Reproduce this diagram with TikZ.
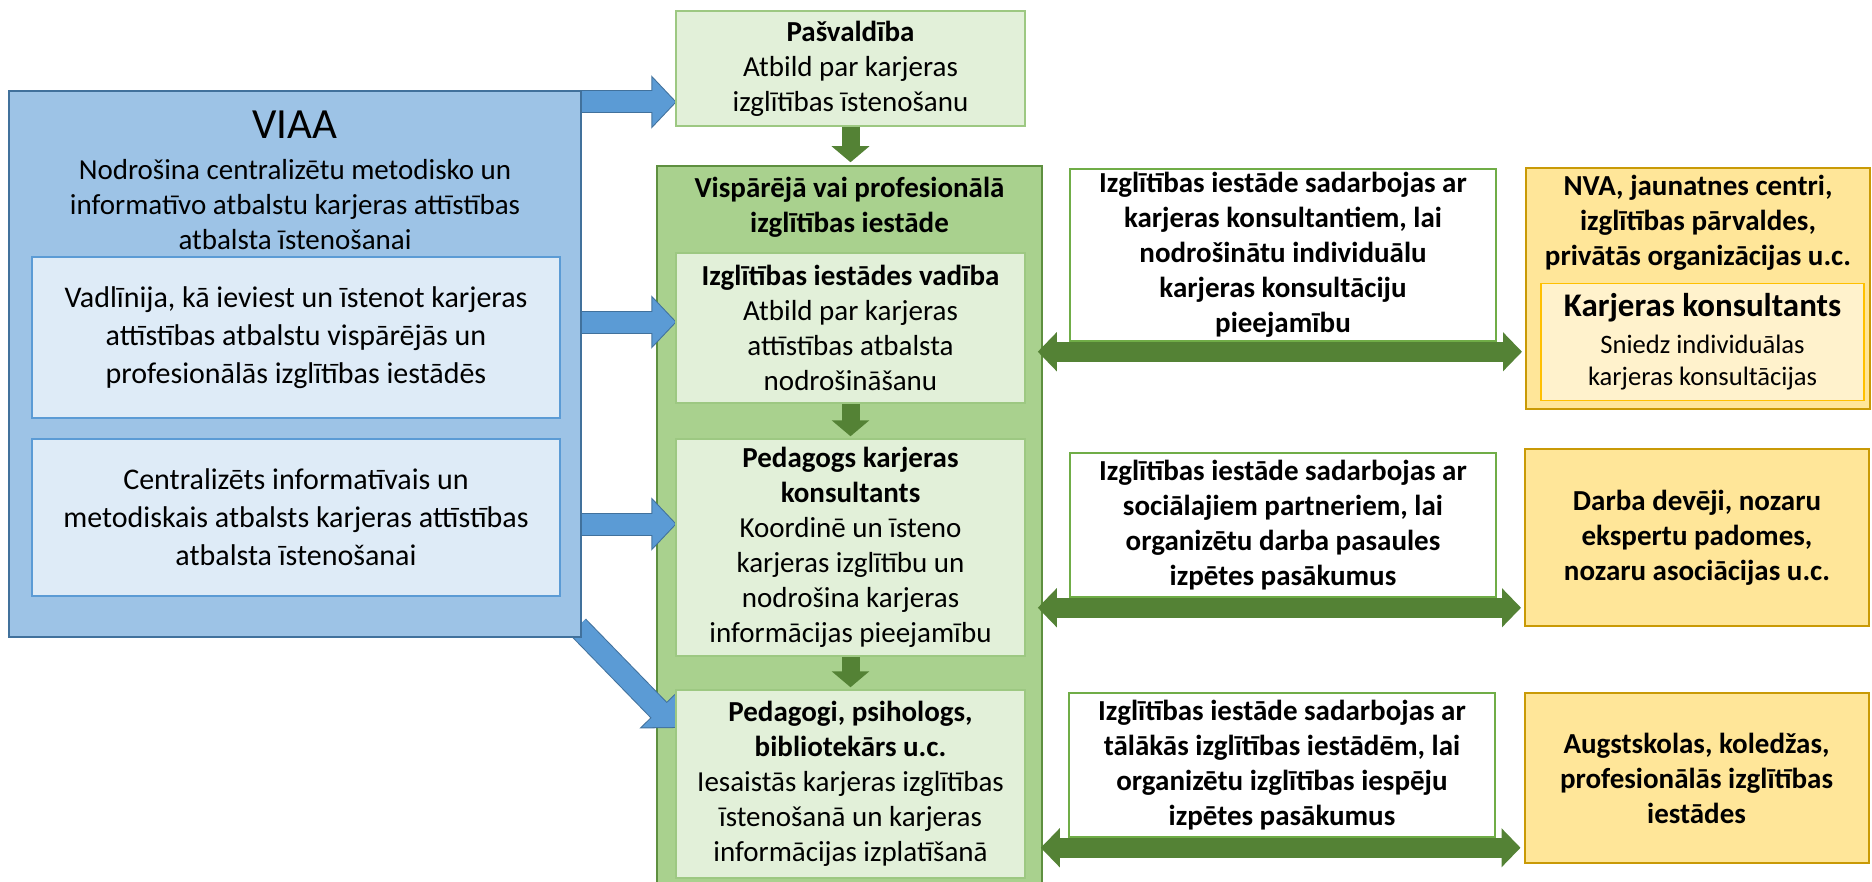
\documentclass[tikz,border=0pt]{standalone}
\usepackage{fontspec}
\setmainfont{Carlito}
\usetikzlibrary{arrows.meta}
\pgfdeclarelayer{back}
\pgfdeclarelayer{mid}
\pgfsetlayers{back,mid,main}

\definecolor{viaafill}{HTML}{9DC3E6}
\definecolor{viaaline}{HTML}{41719C}
\definecolor{subfill}{HTML}{DEEBF7}
\definecolor{subline}{HTML}{5B9BD5}
\definecolor{arrowblue}{HTML}{5B9BD5}
\definecolor{schoolfill}{HTML}{A9D18E}
\definecolor{schoolline}{HTML}{5E8F3F}
\definecolor{mintfill}{HTML}{E2F0D9}
\definecolor{mintline}{HTML}{9DC882}
\definecolor{arrowgreen}{HTML}{548235}
\definecolor{talkline}{HTML}{70AD47}
\definecolor{yelfill}{HTML}{FFE699}
\definecolor{yelline}{HTML}{C99A06}
\definecolor{lightyelfill}{HTML}{FFF2CC}
\definecolor{lightyelline}{HTML}{FFC000}

\begin{document}
\begin{tikzpicture}[x=0.5pt,y=-0.5pt,
  txt/.style={font=\fontsize{14.5}{17.5}\selectfont, align=center, inner sep=0pt},
  boldtxt/.style={txt, font=\fontsize{14.5}{17.5}\selectfont\bfseries},
  box/.style={txt, draw, line width=0.75pt},
  viaabox/.style={box, fill=viaafill, draw=viaaline},
  subbox/.style={box, fill=subfill, draw=subline, minimum width=264pt, font=\fontsize{15}{19}\selectfont},
  schoolbox/.style={box, fill=schoolfill, draw=schoolline},
  greenbox/.style={box, fill=mintfill, draw=mintline, minimum width=174.5pt},
  talkbox/.style={boldtxt, draw=talkline, fill=white, line width=0.75pt, minimum width=213pt},
  yelbox/.style={boldtxt, draw=yelline, fill=yelfill, line width=1pt, minimum width=172pt},
  bluearrow/.style={draw=arrowblue, line width=10.5pt, -{Triangle[length=11.5pt,width=23.5pt]},
    preaction={draw=viaaline, line width=11.5pt, shorten >=-0.7pt, -{Triangle[length=12.7pt,width=26pt]}}},
  downarrow/.style={draw=arrowgreen, line width=9pt, -{Triangle[length=8pt,width=18.5pt]}},
  twoway/.style={draw=arrowgreen, line width=10pt, {Triangle[length=9.5pt,width=19pt]}-{Triangle[length=9.5pt,width=19pt]}}]
\useasboundingbox (0,0) rectangle (1872,882);

% VIAA
\node[viaabox, minimum width=286pt, minimum height=273pt] (viaa) at (295,364) {};
\node[txt, font=\fontsize{21.5}{26}\selectfont] (viaaname) at (295,125) {VIAA};
\node[txt] (viaadesc) at (295,205) {Nodrošina centralizētu metodisko un\\informatīvo atbalstu karjeras attīstības\\atbalsta īstenošanai};
\node[subbox, minimum height=80.5pt] (guide) at (296,337.5) {Vadlīnija, kā ieviest un īstenot karjeras\\attīstības atbalstu vispārējās un\\profesionālās izglītības iestādēs};
\node[subbox, minimum height=78.5pt] (info) at (296,517.5) {Centralizēts informatīvais un\\metodiskais atbalsts karjeras attīstības\\atbalsta īstenošanai};

% middle column
\begin{pgfonlayer}{back}
\node[schoolbox, minimum width=192.5pt, minimum height=362pt] (school) at (849.5,528) {};
\end{pgfonlayer}
\node[boldtxt] (schoolname) at (849.5,207) {Vispārējā vai profesionālā\\izglītības iestāde};
\node[greenbox, minimum height=57.5pt] (pasv) at (850.5,68.5) {\textbf{Pašvaldība}\\Atbild par karjeras\\izglītības īstenošanu};
\node[greenbox, minimum height=75pt] (lead) at (850.5,328) {\textbf{Izglītības iestādes vadība}\\Atbild par karjeras\\attīstības atbalsta\\nodrošināšanu};
\node[greenbox, minimum height=108.5pt] (counsel) at (850.5,547.5) {\textbf{Pedagogs karjeras}\\\textbf{konsultants}\\Koordinē un īsteno\\karjeras izglītību un\\nodrošina karjeras\\informācijas pieejamību};
\node[greenbox, minimum height=94pt] (staff) at (850.5,784) {\textbf{Pedagogi, psihologs,}\\\textbf{bibliotekārs u.c.}\\Iesaistās karjeras izglītības\\īstenošanā un karjeras\\informācijas izplatīšanā};

% right column
\node[talkbox, minimum height=86pt] (talkA) at (1283,255) {Izglītības iestāde sadarbojas ar\\karjeras konsultantiem, lai\\nodrošinātu individuālu\\karjeras konsultāciju\\pieejamību};
\node[talkbox, minimum height=72pt] (talkB) at (1283,525) {Izglītības iestāde sadarbojas ar\\sociālajiem partneriem, lai\\organizētu darba pasaules\\izpētes pasākumus};
\node[talkbox, minimum height=72pt] (talkC) at (1282,765) {Izglītības iestāde sadarbojas ar\\tālākās izglītības iestādēm, lai\\organizētu izglītības iespēju\\izpētes pasākumus};

\node[yelbox, minimum height=120.5pt] (orgs) at (1698,288.5) {};
\node[boldtxt] (orgsname) at (1698,223) {NVA, jaunatnes centri,\\izglītības pārvaldes,\\privātās organizācijas u.c.};
\node[box, fill=lightyelfill, draw=lightyelline, minimum width=161.5pt, minimum height=58.5pt,
  font=\fontsize{13.3}{16}\selectfont] (consult) at (1702.5,342) {{\fontsize{16.5}{20}\selectfont\bfseries Karjeras konsultants}\\[2.5pt]Sniedz individuālas\\karjeras konsultācijas};
\node[yelbox, minimum height=88.5pt] (employers) at (1697,537.5) {Darba devēji, nozaru\\ekspertu padomes,\\nozaru asociācijas u.c.};
\node[yelbox, minimum height=85pt] (colleges) at (1696.5,778) {Augstskolas, koledžas,\\profesionālās izglītības\\iestādes};

% arrows from VIAA
\coordinate (toP) at ([yshift=-16.75pt]pasv.west);
\coordinate (toL) at ([yshift=3pt]lead.west);
\coordinate (toC) at ([yshift=11.75pt]counsel.west);
\coordinate (toS) at ([yshift=28.5pt]staff.west);
\coordinate (fromD) at ([xshift=-2pt,yshift=5.5pt]viaa.south east);
\begin{pgfonlayer}{mid}
\draw[bluearrow] (viaa.east |- toP) -- (toP);
\draw[bluearrow] (viaa.east |- toL) -- (toL);
\draw[bluearrow] (viaa.east |- toC) -- (toC);
\draw[bluearrow] (fromD) -- (toS);
\end{pgfonlayer}

% arrows down the column
\draw[downarrow] (pasv.south) -- ([yshift=1.5pt]pasv.south |- school.north);
\draw[downarrow] (lead.south) -- ([yshift=1pt]counsel.north);
\draw[downarrow] (counsel.south) -- ([yshift=1pt]staff.north);

% two-way arrows
\coordinate (dA) at ([yshift=-5pt]talkA.south);
\coordinate (dB) at ([yshift=-5pt]talkB.south);
\coordinate (dC) at ([yshift=-5pt]talkC.south);
\draw[twoway, shorten <=-2.5pt, shorten >=1.5pt] (school.east |- dA) -- (orgs.west |- dA);
\draw[twoway, shorten <=-2.5pt, shorten >=1.5pt] (school.east |- dB) -- (employers.west |- dB);
\draw[twoway, shorten <=-1pt, shorten >=1.5pt] (school.east |- dC) -- (colleges.west |- dC);
\end{tikzpicture}
\end{document}
